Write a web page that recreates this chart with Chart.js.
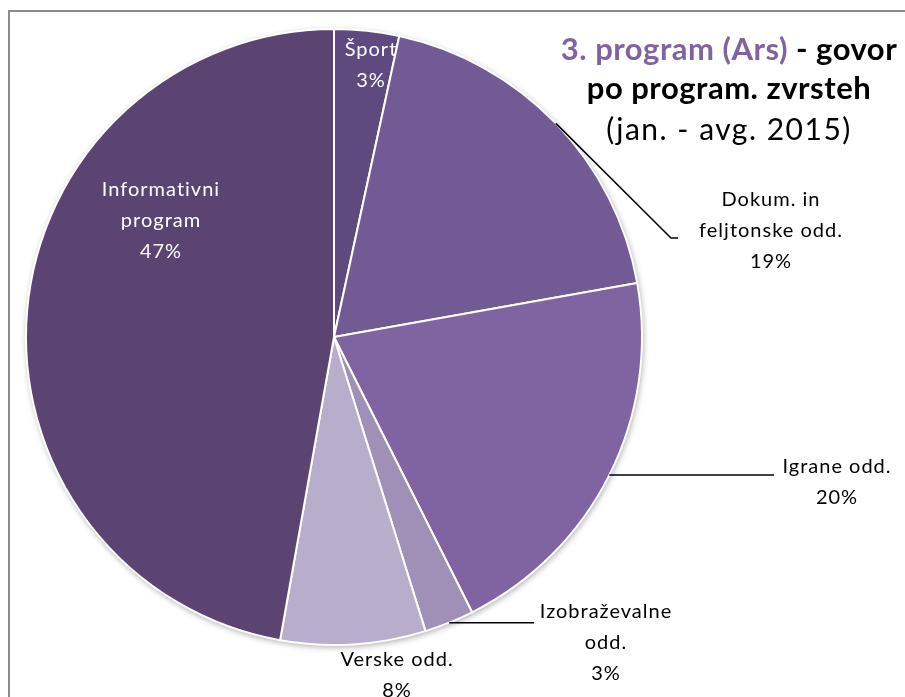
<!DOCTYPE html>
<html>
<head>
<meta charset="utf-8">
<script src="https://cdn.jsdelivr.net/npm/chart.js@4.4.1/dist/chart.umd.min.js"></script>
<style>
html,body{margin:0;padding:0;background:#fff;}
#wrap{position:relative;width:905px;height:697px;overflow:hidden;}
canvas{display:block;}
</style>
</head>
<body>
<div id="wrap"><canvas id="c" width="905" height="697"></canvas></div>
<script>
// ---- data ----
const categories = ['Šport', 'Dokum. in feljtonske odd.', 'Igrane odd.', 'Izobraževalne odd.', 'Verske odd.', 'Informativni program'];
const values = [3.4, 18.8, 20.4, 2.6, 7.6, 47.2];
const percentLabels = ['3%', '19%', '20%', '3%', '8%', '47%'];
const labelLines = [['Šport'], ['Dokum. in', 'feljtonske odd.'], ['Igrane odd.'], ['Izobraževalne', 'odd.'], ['Verske odd.'], ['Informativni', 'program']];

// ---- style ----
const colors = ['#5f4a7f', '#725a94', '#8064a2', '#a08fb6', '#b8adca', '#5b4472'];
// label placement relative to pie center (dx, dy of first text line), leader elbow
const placement = [
  {dx: 37, dy: -287, color: '#fff'},
  {dx: 437, dy: -137, color: '#000', leader: [[337, -99], [344, -99]]},
  {dx: 503, dy: 130, color: '#000', leader: [[440, null]]},
  {dx: 272, dy: 275, color: '#000', leader: [[200, null]]},
  {dx: 63, dy: 323, color: '#000'},
  {dx: -173, dy: -147, color: '#fff'}
];
const FONT = '"Lato", "Open Sans", sans-serif';
const LINE_H = 31;

function setSpacing(ctx, v) {
  if ('letterSpacing' in ctx) ctx.letterSpacing = v + 'px';
}

const labelPlugin = {
  id: 'labels',
  beforeDraw(chart) {
    const ctx = chart.ctx;
    ctx.save();
    ctx.fillStyle = '#fff';
    ctx.fillRect(0, 0, chart.width, chart.height);
    ctx.strokeStyle = '#8c8c8c';
    ctx.lineWidth = 2;
    ctx.beginPath();
    ctx.moveTo(9, chart.height + 5);
    ctx.lineTo(9, 11);
    ctx.lineTo(chart.width + 5, 11);
    ctx.stroke();
    ctx.restore();
  },
  beforeDatasetsDraw(chart) {
    const arc = chart.getDatasetMeta(0).data[0];
    if (!arc) return;
    const ctx = chart.ctx;
    ctx.save();
    ctx.shadowColor = 'rgba(0,0,0,0.35)';
    ctx.shadowBlur = 6;
    ctx.shadowOffsetX = 1;
    ctx.shadowOffsetY = 2;
    ctx.fillStyle = '#fff';
    ctx.beginPath();
    ctx.arc(arc.x, arc.y, arc.outerRadius, 0, Math.PI * 2);
    ctx.fill();
    ctx.restore();
  },
  afterDatasetsDraw(chart) {
    const ctx = chart.ctx;
    const meta = chart.getDatasetMeta(0);
    ctx.save();
    meta.data.forEach((a, i) => {
      const p = placement[i];
      const cx = a.x, cy = a.y;
      const mid = (a.startAngle + a.endAngle) / 2;
      if (p.leader) {
        const sx = cx + Math.cos(mid) * a.outerRadius;
        const sy = cy + Math.sin(mid) * a.outerRadius;
        ctx.strokeStyle = '#000';
        ctx.lineWidth = 1.5;
        ctx.beginPath();
        ctx.moveTo(sx, sy);
        p.leader.forEach(pt => {
          ctx.lineTo(cx + pt[0], pt[1] === null ? sy : cy + pt[1]);
        });
        ctx.stroke();
      }
      const lines = labelLines[i].concat([percentLabels[i]]);
      ctx.fillStyle = p.color;
      ctx.font = '20px ' + FONT;
      setSpacing(ctx, 1);
      ctx.textAlign = 'center';
      ctx.textBaseline = 'middle';
      lines.forEach((t, k) => {
        ctx.fillText(t, cx + p.dx, cy + p.dy + k * LINE_H);
      });
    });
    // title
    const tx = 729;
    ctx.textBaseline = 'middle';
    ctx.font = 'bold 31px ' + FONT;
    setSpacing(ctx, 0.5);
    const part1 = '3. program (Ars)';
    const part2 = ' - govor';
    const w1 = ctx.measureText(part1).width;
    const w2 = ctx.measureText(part2).width;
    const start = tx - (w1 + w2) / 2;
    ctx.textAlign = 'left';
    ctx.fillStyle = '#8064a2';
    ctx.fillText(part1, start, 50);
    ctx.fillStyle = '#000';
    ctx.fillText(part2, start + w1, 50);
    ctx.textAlign = 'center';
    ctx.fillText('po program. zvrsteh', tx, 89);
    ctx.font = '30px ' + FONT;
    setSpacing(ctx, 1.5);
    ctx.fillText('(jan. - avg. 2015)', tx, 130);
    ctx.restore();
  }
};

new Chart(document.getElementById('c'), {
  type: 'pie',
  data: {
    labels: categories,
    datasets: [{
      data: values,
      backgroundColor: colors,
      borderColor: '#fff',
      borderWidth: 2
    }]
  },
  options: {
    responsive: false,
    animation: false,
    layout: {padding: {left: 25, right: 262, top: 28, bottom: 51}},
    plugins: {legend: {display: false}, tooltip: {enabled: false}, title: {display: false}}
  },
  plugins: [labelPlugin]
});
</script>
</body>
</html>
